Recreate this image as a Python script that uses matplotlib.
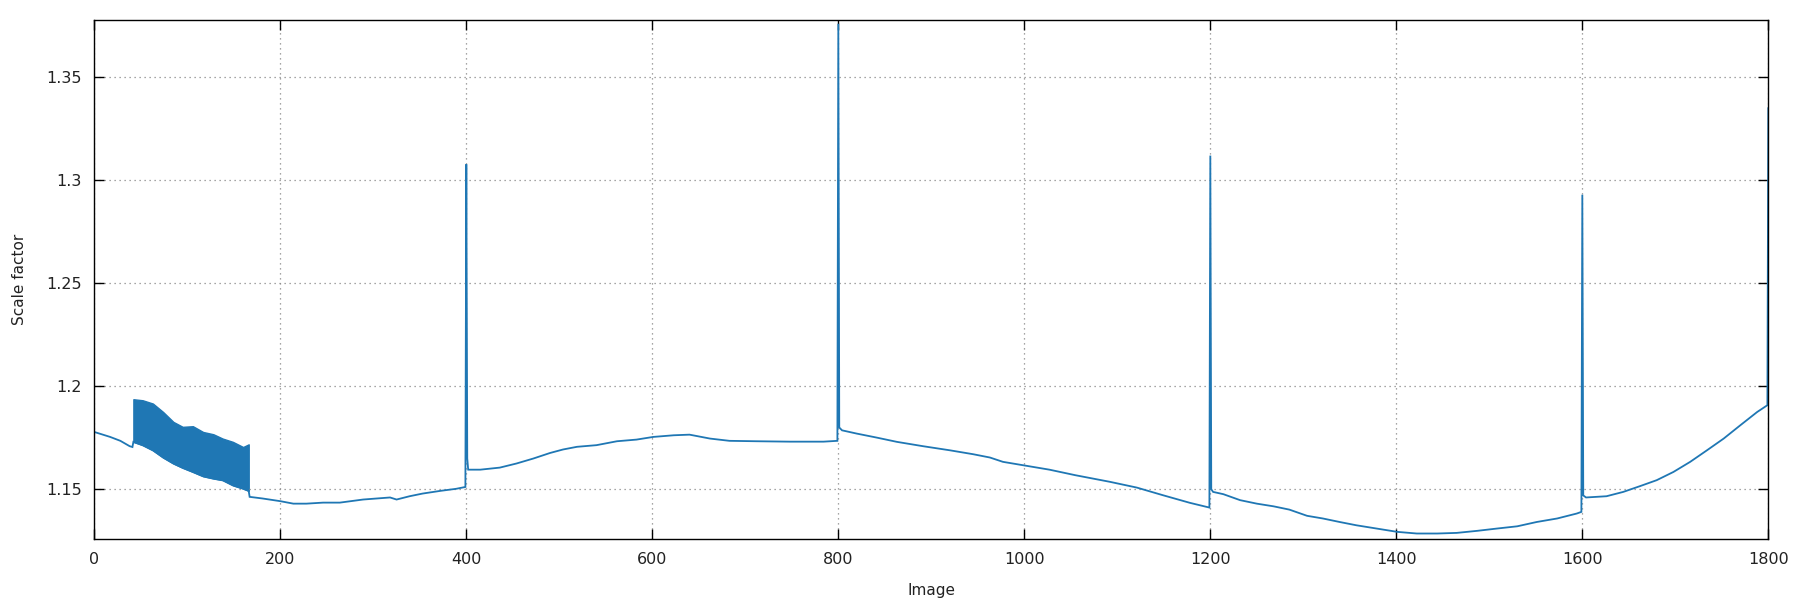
import matplotlib
matplotlib.use("Agg")
import matplotlib.pyplot as plt

# Main scale-factor trace (image index, value)
image_idx = [0, 17, 28, 38, 41,
             42, 52, 63, 74, 85, 95, 106, 117, 128, 138, 149, 160, 166,
             167, 181, 200, 214, 228, 246, 264, 289, 318, 325, 339, 353, 372, 389, 399,
             400, 401,
             402, 415, 436, 454, 472, 490, 504, 519, 540, 562, 583, 601, 623, 640,
             662, 683, 712, 748, 784, 799,
             800, 801,
             804, 820, 841, 863, 891, 920, 945, 963, 977, 998, 1027, 1055, 1092,
             1121, 1149, 1178, 1199,
             1200, 1201,
             1203, 1214, 1232, 1250, 1268, 1285, 1304, 1321, 1339, 1357, 1379,
             1401, 1422, 1444, 1465, 1487, 1508, 1530, 1551, 1573, 1594, 1599,
             1600, 1601,
             1604, 1626, 1644, 1662, 1680, 1698, 1716, 1734, 1752, 1770, 1788, 1799,
             1800]
scale_factor = [1.1778, 1.1754, 1.1735, 1.1709, 1.1705,
                1.1730, 1.1714, 1.1689, 1.1654, 1.1625, 1.1604, 1.1584, 1.1563, 1.1552, 1.1544, 1.1519, 1.1503, 1.1492,
                1.1463, 1.1455, 1.1442, 1.1430, 1.1430, 1.1435, 1.1435, 1.1450, 1.1460, 1.1450, 1.1466, 1.1479, 1.1492, 1.1502, 1.1511,
                1.3078, 1.1650,
                1.1595, 1.1595, 1.1605, 1.1625, 1.1649, 1.1676, 1.1693, 1.1706, 1.1714, 1.1733, 1.1741, 1.1754, 1.1762, 1.1765,
                1.1746, 1.1735, 1.1733, 1.1731, 1.1731, 1.1735,
                1.3760, 1.1800,
                1.1786, 1.1770, 1.1751, 1.1730, 1.1709, 1.1689, 1.1670, 1.1654, 1.1633, 1.1617, 1.1595, 1.1568, 1.1536,
                1.1508, 1.1471, 1.1434, 1.1411,
                1.3120, 1.1500,
                1.1487, 1.1476, 1.1447, 1.1430, 1.1417, 1.1401, 1.1371, 1.1358, 1.1341, 1.1325, 1.1309,
                1.1293, 1.1285, 1.1285, 1.1288, 1.1298, 1.1309, 1.1320, 1.1341, 1.1358, 1.1382, 1.1390,
                1.2930, 1.1470,
                1.1460, 1.1466, 1.1487, 1.1515, 1.1544, 1.1584, 1.1633, 1.1689, 1.1746, 1.1811, 1.1875, 1.1908,
                1.3350]

# Oscillating band (images 42-166): upper and lower envelopes
band_x = [42, 52, 63, 74, 85, 95, 106, 117, 128, 138, 149, 160, 166]
band_hi = [1.1937, 1.1932, 1.1916, 1.1875, 1.1827, 1.1803, 1.1806, 1.1778, 1.1767, 1.1746, 1.1730, 1.1705, 1.1718]
band_lo = [1.1730, 1.1714, 1.1689, 1.1654, 1.1625, 1.1604, 1.1584, 1.1563, 1.1552, 1.1544, 1.1519, 1.1503, 1.1492]

x_ticks = [0, 200, 400, 600, 800, 1000, 1200, 1400, 1600, 1800]
y_ticks = [1.15, 1.2, 1.25, 1.3, 1.35]
y_tick_labels = ["1.15", "1.2", "1.25", "1.3", "1.35"]

color = "#1f77b4"
fig = plt.figure(figsize=(18, 6), dpi=100)
ax = fig.add_axes([0.0524, 0.1012, 0.9300, 0.8650])

ax.plot(image_idx, scale_factor, color=color, lw=1.3, solid_joinstyle="miter")
ax.fill_between(band_x, band_lo, band_hi, color=color, lw=1.0, edgecolor=color, step=None)

ax.set_xlim(0, 1800)
ax.set_ylim(1.1257, 1.3777)
ax.set_xticks(x_ticks)
ax.set_yticks(y_ticks)
ax.set_yticklabels(y_tick_labels)

ax.grid(True, linestyle=(0, (1, 3)), color="#888888", lw=0.9)
ax.tick_params(direction="in", length=7, width=1, top=True, right=True,
               labelsize=11.5, labelcolor="#222222", pad=9)
for s in ax.spines.values():
    s.set_linewidth(1.0)
    s.set_color("black")

ax.set_xlabel("Image", fontsize=11, color="#222222", labelpad=12)
ax.set_ylabel("Scale factor", fontsize=11, color="#222222", labelpad=14)

fig.savefig("out.png", dpi=100)
